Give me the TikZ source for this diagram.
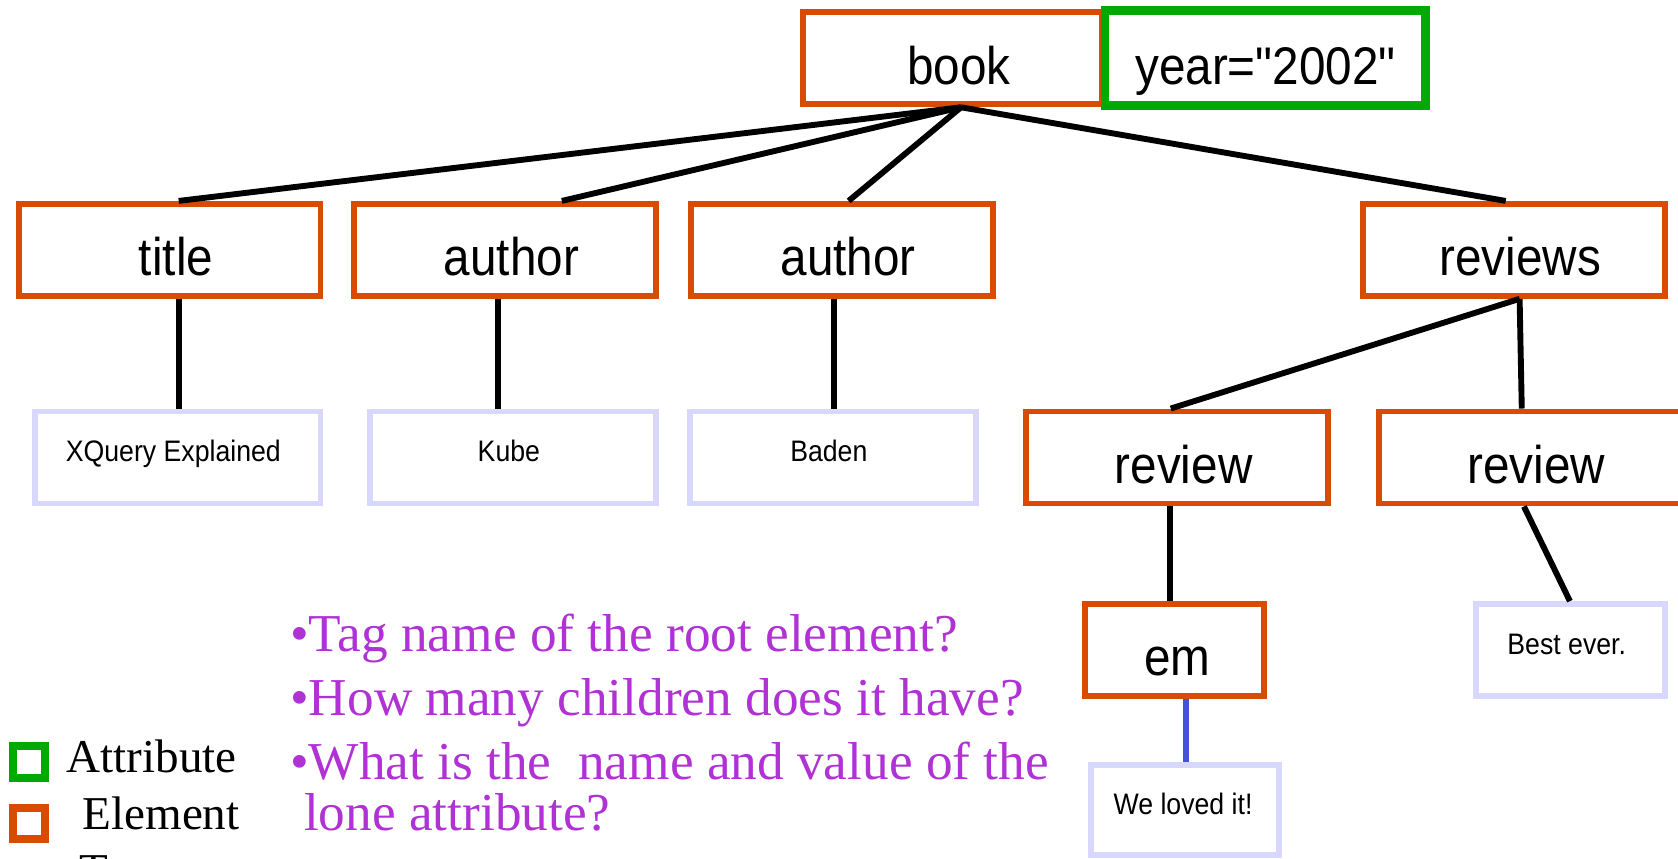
\documentclass[tikz,border=0pt]{standalone}
\usepackage{fontspec}
\setmainfont{Liberation Serif}
\newfontfamily\arialn{Liberation Sans}[FakeStretch=0.9]
\newfontfamily\timesf{Liberation Serif}
\definecolor{elemc}{RGB}{217,75,0}
\definecolor{attrc}{RGB}{0,170,0}
\definecolor{textc}{RGB}{216,216,255}
\definecolor{bluec}{RGB}{68,82,221}
\definecolor{purp}{RGB}{176,50,212}
\begin{document}
\begin{tikzpicture}[x=1pt,y=-1pt,
  boxbase/.style={draw=elemc, line width=5.5pt, minimum width=282pt, minimum height=86pt,
    inner sep=0pt, font=\arialn\fontsize{49.5}{50}\selectfont, text height=48pt, text depth=0pt},
  elem/.style={boxbase, execute at begin node={\hspace*{12pt}}},
  attr/.style={boxbase, draw=attrc},
  txtbase/.style={draw=textc, line width=5.5pt, minimum width=267pt, minimum height=86pt,
    inner sep=0pt, font=\arialn\fontsize{27.7}{30}\selectfont, text height=8pt, text depth=0pt},
  txt/.style={txtbase, execute at end node={\hspace*{8pt}}},
  conn/.style={line width=5.5pt, black},
  tconn/.style={line width=5.5pt, bluec},
  quest/.style={anchor=base west, inner sep=0pt, text=purp, font=\timesf\fontsize{49.8}{52}\selectfont},
  legtxt/.style={anchor=base west, inner sep=0pt, font=\timesf\fontsize{44}{46}\selectfont},
  legbox/.style={line width=7.5pt}
]
\useasboundingbox (0,0) rectangle (1568,802);
\clip (0,0) rectangle (1568,802);

% element and attribute boxes
\node[elem, minimum width=280pt] (book) at (890,54.5) {book};
\node[attr, minimum width=297pt] (year) at (1182.5,54.5) {year="2002"};
\node[elem] (title) at (158.5,233.5) {title};
\node[elem] (auth1) at (472,233.5) {author};
\node[elem] (auth2) at (786.5,233.5) {author};
\node[elem] (reviews) at (1414.5,233.5) {reviews};
\node[elem] (rev1) at (1100,427.5) {review};
\node[elem] (rev2) at (1429.5,427.5) {review};
\node[boxbase, minimum width=168pt, execute at begin node={\hspace*{5pt}}] (em) at (1097.5,607.5) {em};

% text boxes
\node[txt] (xq) at (166,427.5) {XQuery Explained};
\node[txt] (kube) at (479.5,427.5) {Kube};
\node[txt] (baden) at (778.5,427.5) {Baden};
\node[txtbase, minimum width=176pt, execute at end node={\hspace*{7pt}}] (best) at (1467.5,607.5) {Best ever.};
\node[txtbase, minimum width=176pt, minimum height=84pt, execute at end node={\hspace*{4pt}}] (loved) at (1107.5,757) {We loved it!};

% connectors
\draw[conn] ([xshift=8pt]book.south) -- ([xshift=8.5pt]title.north);
\draw[conn] ([xshift=8pt]book.south) -- ([xshift=53pt]auth1.north);
\draw[conn] ([xshift=8pt]book.south) -- ([xshift=6.5pt]auth2.north);
\draw[conn] ([xshift=8pt]book.south) -- ([xshift=-7.5pt]reviews.north);
\draw[conn] ([xshift=8.5pt]title.south) -- ([xshift=1pt]xq.north);
\draw[conn] ([xshift=-7pt]auth1.south) -- ([xshift=-14.5pt]kube.north);
\draw[conn] ([xshift=-7.5pt]auth2.south) -- ([xshift=0.5pt]baden.north);
\draw[conn] ([xshift=5.5pt]reviews.south) -- ([xshift=-6pt]rev1.north);
\draw[conn] ([xshift=5.5pt]reviews.south) -- ([xshift=-7.5pt]rev2.north);
\draw[conn] ([xshift=-7pt]rev1.south) -- ([xshift=-4.5pt]em.north);
\draw[conn] ([xshift=-5.5pt]rev2.south) -- ([xshift=-0.5pt]best.north);
\draw[tconn] ([xshift=10.5pt]em.south) -- ([xshift=0.5pt]loved.north);

% redraw year box on top of the shared edge
\draw[attrc, line width=5.5pt] (year.north west) rectangle (year.south east);

% questions
\node[quest] (q1) at (271,609) {\textbullet Tag name of the root element?};
\node[quest] (q2) at (271,669) {\textbullet How many children does it have?};
\node[quest] (q3) at (271,728) {\textbullet What is the\ \ name and value of the};
\node[quest] (q4) at (284,776.5) {lone attribute?};

% legend
\draw[legbox, attrc] (12.25,697.25) rectangle (41.75,726.75);
\draw[legbox, elemc] (12.25,754.75) rectangle (41.75,784.25);
\node[legtxt] (lattr) at (62,722) {Attribute};
\node[legtxt] (lelem) at (77,775) {Element};
\node[legtxt] (ltext) at (74,828) {Text};
\end{tikzpicture}
\end{document}
